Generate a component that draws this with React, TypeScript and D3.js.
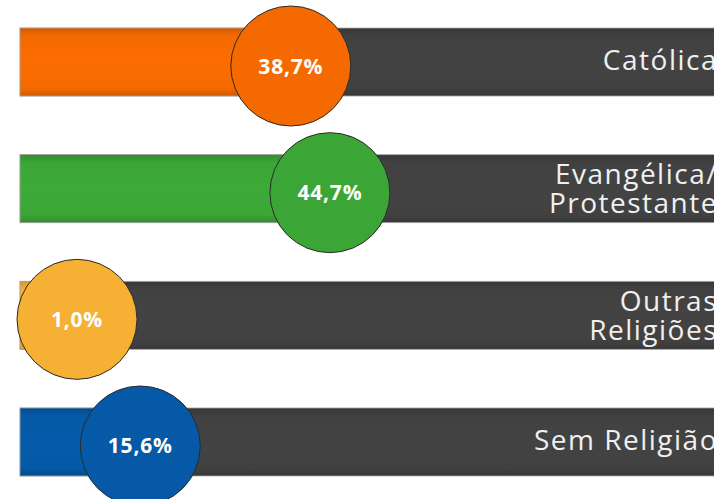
import React from "react";
import * as d3 from "d3";

const categories = ["Católica", "Evangélica/Protestante", "Outras Religiões", "Sem Religião"];
const labelLines = [["Católica"], ["Evangélica/", "Protestante"], ["Outras", "Religiões"], ["Sem Religião"]];
const values = [38.7, 44.7, 1.0, 15.6];
const colors = ["#F56A00", "#3BA636", "#F6B134", "#0559A6"];

const W = 714;
const H = 499;

export default function App() {
  const y = d3.scaleBand<string>().domain(categories).range([28, 476]).paddingInner(0.463).paddingOuter(0);
  const x = d3.scaleLinear().domain([0, 100]).range([38.6, 690.3]);
  const x0 = 20;
  const r = 60;
  const fmt = (v: number) => v.toFixed(1).replace(".", ",") + "%";

  const grad = (id: string, c: string) => {
    const base = d3.color(c)!;
    const dark = base.darker(0.45).formatHex();
    const light = base.brighter(0.08).formatHex();
    return (
      <linearGradient id={id} key={id} x1="0" y1="0" x2="0" y2="1">
        <stop offset="0" stopColor={dark} />
        <stop offset="0.12" stopColor={base.formatHex()} />
        <stop offset="0.5" stopColor={light} />
        <stop offset="0.88" stopColor={base.formatHex()} />
        <stop offset="1" stopColor={dark} />
      </linearGradient>
    );
  };

  return (
    <div style={{ position: "fixed", left: 0, top: 0, width: W, height: H, background: "#fff" }}>
      <svg width={W} height={H} style={{ display: "block" }}>
        <defs>
          {grad("g-dark", "#414141")}
          {colors.map((c, i) => grad("g-" + i, c))}
        </defs>
        {categories.map((cat, i) => {
          const by = y(cat)!;
          const bh = y.bandwidth();
          const cy = by + bh / 2;
          const fx = x(values[i]);
          const cx = Math.max(fx, x0 + r - 3);
          const lines = labelLines[i];
          const lineGap = 29;
          const firstBaseline = lines.length === 1 ? cy + 8 : cy - 4.5;
          return (
            <g key={cat}>
              <rect x={x0} y={by} width={W + 10 - x0} height={bh} fill="url(#g-dark)" stroke="#a8a8a8" strokeWidth={0.8} />
              <rect x={x0} y={by} width={Math.max(0, fx - x0)} height={bh} fill={`url(#g-${i})`} stroke="#a8a8a8" strokeWidth={0.8} />
              <text
                textAnchor="end"
                fill="#f0f0f0"
                fontFamily="'Open Sans', sans-serif"
                fontWeight={400}
                fontSize={28}
                letterSpacing={1.5}
              >
                {lines.map((ln, j) => (
                  <tspan key={j} x={718} y={firstBaseline + j * lineGap}>
                    {ln}
                  </tspan>
                ))}
              </text>
              <circle cx={cx} cy={cy + 4} r={r} fill={colors[i]} stroke="#2a2a2a" strokeWidth={1} />
              <text
                x={cx}
                y={cy + 4 + 7.5}
                textAnchor="middle"
                fill="#ffffff"
                fontFamily="'Open Sans', sans-serif"
                fontWeight={700}
                fontSize={21}
                letterSpacing={0.8}
              >
                {fmt(values[i])}
              </text>
            </g>
          );
        })}
      </svg>
    </div>
  );
}
